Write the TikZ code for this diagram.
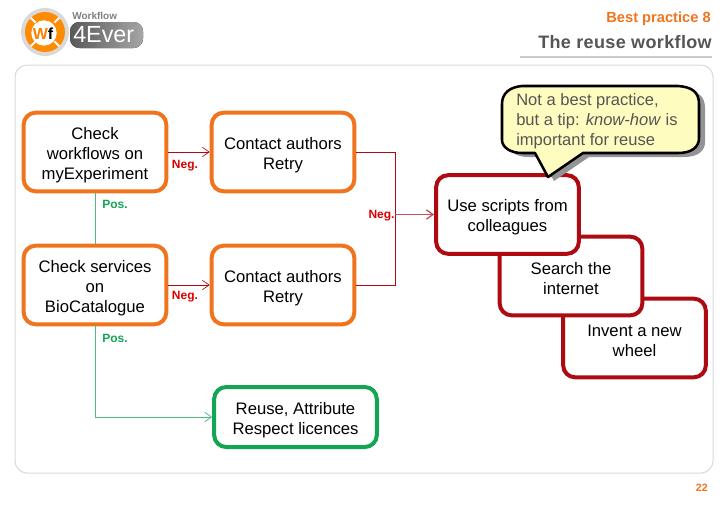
\documentclass[tikz,border=0pt]{standalone}
\usepackage{fontspec}
\setmainfont{Liberation Sans}
\usetikzlibrary{arrows.meta}
\definecolor{wforange}{HTML}{F0741E}
\definecolor{wfred}{HTML}{AE0A12}
\definecolor{wfgreen}{HTML}{12A653}
\definecolor{wfgrey}{HTML}{555555}
\tikzset{
  flowbox/.style = {draw, fill = white, line width = 3pt, rounded corners = 9pt,
    minimum width = 107pt, minimum height = 59pt, inner sep = 0pt, align = center,
    font = \fontsize{12.5}{15}\selectfont},
  orangebox/.style = {flowbox, draw = wforange},
  redbox/.style = {flowbox, draw = wfred},
  greenbox/.style = {flowbox, draw = wfgreen, minimum width = 122pt, minimum height = 45pt},
  negline/.style = {wfred, line width = 0.5pt},
  posline/.style = {wfgreen!75, line width = 0.6pt},
  neglabel/.style = {text = red!85!black, font = \fontsize{9}{10}\bfseries\selectfont},
  poslabel/.style = {text = wfgreen, font = \fontsize{9}{10}\bfseries\selectfont},
  >={Straight Barb[length = 5pt, width = 7pt]}
}
\newcommand{\topgap}{\rule{0pt}{13.5pt}}
\def\tipshape{(522, 86) -- (678, 86) .. controls (692, 87) and (699, 92) .. (699, 104)
  -- (699, 138) .. controls (699, 147) and (692, 153) .. (678, 153)
  -- (583, 153) -- (548, 177) -- (535, 153) -- (522, 153)
  .. controls (510, 153) and (502, 147) .. (502, 140)
  -- (502, 104) .. controls (502, 93) and (510, 87) .. (522, 86) -- cycle}

\begin{document}
\begin{tikzpicture}[x = 0.75pt, y = -0.75pt]
\useasboundingbox (0, 0) rectangle (728, 504);
% header
\draw [gray!40, line width = 1pt] (520, 57) to (712, 57);
\draw [gray!30, line width = 0.75pt, rounded corners = 9pt] (15, 65) rectangle (713, 473);
\node (practice) at (711, 19) [anchor = east, inner sep = 0pt, text = wforange, font = \fontsize{11}{12}\bfseries\selectfont] {Best practice 8};
\node (title) at (712, 42) [anchor = east, inner sep = 0pt, text = wfgrey, font = \fontsize{13.5}{14}\bfseries\selectfont] {\addfontfeature{LetterSpace = 2}The reuse workflow};
\node (pagenum) at (708, 488) [anchor = east, inner sep = 0pt, text = wforange, font = \fontsize{8}{10}\bfseries\selectfont] {22};
% logo
\fill [gray!30] (45, 32) circle (18pt);
\fill [orange!90!yellow] (45, 32) circle (15pt);
\fill [white] (44, 33) circle (9.5pt);
\foreach \a in {45, 135, 225, 315}
  \draw [white, line width = 1.5pt] (45, 32) ++(\a:10pt) -- ++(\a:5pt);
\node (logowf) at (43, 34) [inner sep = 0pt, font = \fontsize{12}{14}\bfseries\selectfont] {\textcolor{orange}{W}f};
\fill [left color = gray!70!black, right color = gray!70, rounded corners = 7pt] (70, 22) rectangle (143, 48);
\node (logotop) at (72, 16) [anchor = west, inner sep = 0pt, text = gray, font = \fontsize{7.5}{10}\bfseries\selectfont] {Workflow};
\node (logoname) at (73, 35) [anchor = west, inner sep = 0pt, text = white, font = \fontsize{17.5}{20}\selectfont] {4Ever};
% left boxes
\node (workflows) at (95, 152) [orangebox] {\topgap Check\\workflows on\\myExperiment};
\node (services) at (95, 285) [orangebox] {\topgap Check services\\on\\BioCatalogue};
\node (contact1) at (283, 152) [orangebox] {\topgap Contact authors\\Retry};
\node (contact2) at (283, 285) [orangebox] {\topgap Contact authors\\Retry};
\node (reuse) at (295.5, 417) [greenbox] {\topgap Reuse, Attribute\\Respect licences};
% stack on the right
\node (invent) at (634.5, 338) [redbox] {\topgap Invent a new\\wheel};
\node (search) at (571, 276) [redbox] {\topgap Search the\\internet};
\node (scripts) at (507.5, 214.5) [redbox] {\topgap Use scripts from\\colleagues};
% connectors
\coordinate (merge) at (395, 214.5);
\draw [->, negline] (workflows) -- (contact1);
\draw [->, negline] (services) -- (contact2);
\draw [negline] (contact1) -| (merge);
\draw [negline] (contact2) -| (merge);
\draw [->, negline, line width = 1pt, wfred!70] (merge) -- (scripts);
\draw [posline] (workflows) -- (services);
\draw [->, posline] (services) |- (reuse);
% labels
\node (neg1) at (185, 166) [neglabel] {Neg.};
\node (neg2) at (185, 297) [neglabel] {Neg.};
\node (neg3) at (381.5, 216) [neglabel] {Neg.};
\node (pos1) at (115, 204) [poslabel] {Pos.};
\node (pos2) at (115, 338) [poslabel] {Pos.};
% callout
\fill [gray!85, shift = {(6, 4)}] \tipshape;
\draw [black, fill = yellow!25!white, line width = 1.9pt, line join = round] \tipshape;
\node (tip) at (516, 121) [anchor = west, inner sep = 0pt, text = wfgrey, align = left, font = \fontsize{12.4}{15.2}\selectfont]
  {Not a best practice,\\but a tip: \textit{know-how} is\\important for reuse};
\end{tikzpicture}
\end{document}
